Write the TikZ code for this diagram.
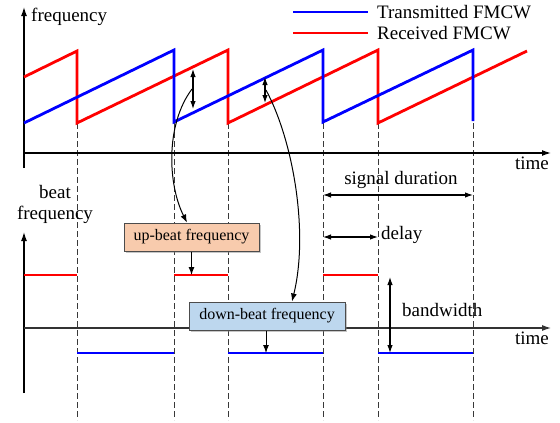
\documentclass[tikz,border=0pt]{standalone}
\usepackage{fontspec}
\setmainfont{Liberation Serif}
\usetikzlibrary{arrows.meta,shadows}

\definecolor{peach}{RGB}{248,203,173}
\definecolor{paleblue}{RGB}{189,215,238}

\tikzset{
  tx/.style = {blue, line width = 2.8pt},
  rx/.style = {red, line width = 2.8pt},
  guide/.style = {gray!45!black, line width = 1pt, dash pattern = on 6pt off 3pt},
  axis/.style = {line width = 1.3pt, -{Latex[length = 9pt, width = 6pt]}},
  dim/.style = {line width = 1.1pt, {Latex[length = 8pt, width = 5.5pt]}-{Latex[length = 8pt, width = 5.5pt]}},
  pointer/.style = {line width = 1pt, -{Latex[length = 8pt, width = 6pt]}},
  lbl/.style = {font = \fontsize{19}{21}\selectfont, inner sep = 0pt},
  beatbox/.style = {draw = black!70, line width = 1pt, minimum height = 28pt, inner sep = 0pt,
    font = \fontsize{16}{18}\selectfont, drop shadow = {shadow xshift = 2pt, shadow yshift = -2pt, opacity = 0.45}}
}

\begin{document}
\begin{tikzpicture}[x = 1pt, y = -1pt]
	 \useasboundingbox (0, 0) rectangle (560, 423);
	 
	 % guides
	 \foreach \x in {77, 174, 228, 323, 378, 473}
	 \draw[guide] (\x, 123) -- (\x, 420);
	 
	 % frequency plot
	 \draw[axis] (24, 168) -- (24, 7);
	 \draw[axis] (24, 153) -- (551, 153);
	 \node[lbl, anchor = base west] at (31, 21) {frequency};
	 \node[lbl, anchor = base east] at (549, 169) {time};
	 
	 \draw[rx] (24, 77) -- (77, 51) -- (77, 123) -- (228, 50) -- (228, 123) -- (378, 50) -- (378, 123) -- (527, 51);
	 \draw[tx] (24, 123) -- (174, 50) -- (174, 122) -- (323, 50) -- (323, 122) -- (473, 50) -- (473, 121);
	 
	 \draw[dim] (193, 69) -- (193, 109);
	 \draw[dim] (265, 77) -- (265, 103);
	 \coordinate (upgap) at (192, 89);
	 \coordinate (downgap) at (266, 90);
	 
	 % legend
	 \draw[tx] (293, 12) -- (368, 12);
	 \draw[rx] (293, 33) -- (368, 33);
	 \node[lbl, anchor = base west] at (377, 18) {Transmitted FMCW};
	 \node[lbl, anchor = base west] at (377, 39) {Received FMCW};
	 
	 % beat frequency plot
	 \draw[axis] (24, 393) -- (24, 232);
	 \draw[axis, gray!40!black, line width = 1.1pt] (24, 328) -- (551, 328);
	 \node[lbl, align = center] at (55, 204) {beat\\frequency};
	 \node[lbl, anchor = base east] at (549, 344) {time};
	 
	 \foreach \a/\b in {24/77, 174/228, 323/378}
	 \draw[rx] (\a, 275) -- (\b, 275);
	 \foreach \a/\b in {77/174, 228/323, 378/473}
	 \draw[tx] (\a, 353) -- (\b, 353);
	 
	 % annotations
	 \draw[dim] (323, 195) -- (473, 195);
	 \node[lbl, anchor = base] at (401, 184) {signal duration};
	 \draw[dim] (323, 237) -- (378, 237);
	 \node[lbl, anchor = base west] at (381, 239) {delay};
	 \draw[dim] (390, 277) -- (390, 353);
	 \node[lbl, anchor = base west] at (402, 316) {bandwidth};
	 
	 \node[beatbox, fill = peach, minimum width = 135pt] (upbox) at (191.5, 237) {up-beat frequency};
	 \node[beatbox, fill = paleblue, minimum width = 156pt] (downbox) at (267, 316) {down-beat frequency};
	 
	 \draw[pointer] (upgap) .. controls (165, 125) and (168, 185) .. ([xshift = -4.5pt]upbox.north);
	 \draw[pointer] (downgap) .. controls (293, 140) and (309, 232) .. ([xshift = 25pt]downbox.north);
	 \draw[pointer] (upbox.south) -- (191.5, 275);
	 \draw[pointer] ([xshift = -1pt]downbox.south) -- (266, 353);
\end{tikzpicture}
\end{document}
